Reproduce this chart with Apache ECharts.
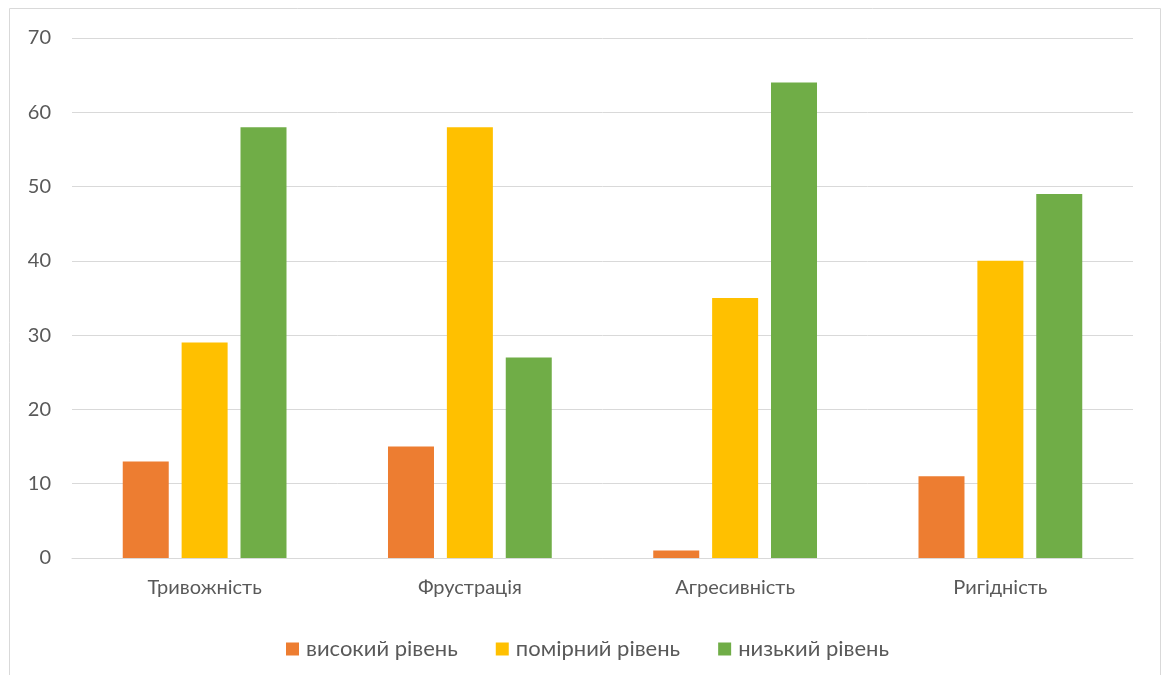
<!DOCTYPE html>
<html><head><meta charset="utf-8">
<script src="https://cdn.jsdelivr.net/npm/echarts@6/dist/echarts.min.js"></script>
<style>html,body{margin:0;padding:0;background:#fff}#c{width:1165px;height:675px}</style>
</head><body><div id="c"></div>
<script>
const categories = ['Тривожність', 'Фрустрація', 'Агресивність', 'Ригідність'];
const seriesNames = ['високий рівень', 'помірний рівень', 'низький рівень'];
const high = [13, 15, 1, 11];
const moderate = [29, 58, 35, 40];
const low = [58, 27, 64, 49];
const yTicks = [0, 10, 20, 30, 40, 50, 60, 70];
const colors = ['#ED7D31', '#FFC000', '#70AD47'];
const font = 'Lato, "Open Sans", sans-serif';

const chart = echarts.init(document.getElementById('c'));
const data = [high, moderate, low];
chart.setOption({
  animation: false,
  color: colors,
  textStyle: { fontFamily: font },
  graphic: [{ type: 'rect', shape: { x: 9.5, y: 8.5, width: 1151, height: 700 },
    style: { fill: 'none', stroke: '#d9d9d9', lineWidth: 1 }, silent: true }],
  grid: { left: 72, right: 32, top: 38, bottom: 117 },
  legend: {
    top: 633, left: 281, itemWidth: 13, itemHeight: 13, itemGap: 38,
    icon: 'rect',
    textStyle: { fontSize: 22, color: '#595959', fontFamily: font, padding: [0, 0, 0, 2] },
    data: seriesNames
  },
  xAxis: {
    type: 'category', data: categories,
    axisLine: { lineStyle: { color: '#d9d9d9', width: 1 } },
    axisTick: { show: false },
    axisLabel: { fontSize: 20, color: '#595959', margin: 20, fontFamily: font }
  },
  yAxis: {
    type: 'value', min: yTicks[0], max: yTicks[yTicks.length - 1], interval: 10,
    axisLine: { show: false }, axisTick: { show: false },
    splitLine: { lineStyle: { color: '#d9d9d9', width: 1 } },
    axisLabel: { fontSize: 20, color: '#595959', margin: 21, fontFamily: font }
  },
  series: seriesNames.map((n, i) => ({
    name: n, type: 'bar', data: data[i], barWidth: 46, barGap: '28%'
  }))
});
</script></body></html>
